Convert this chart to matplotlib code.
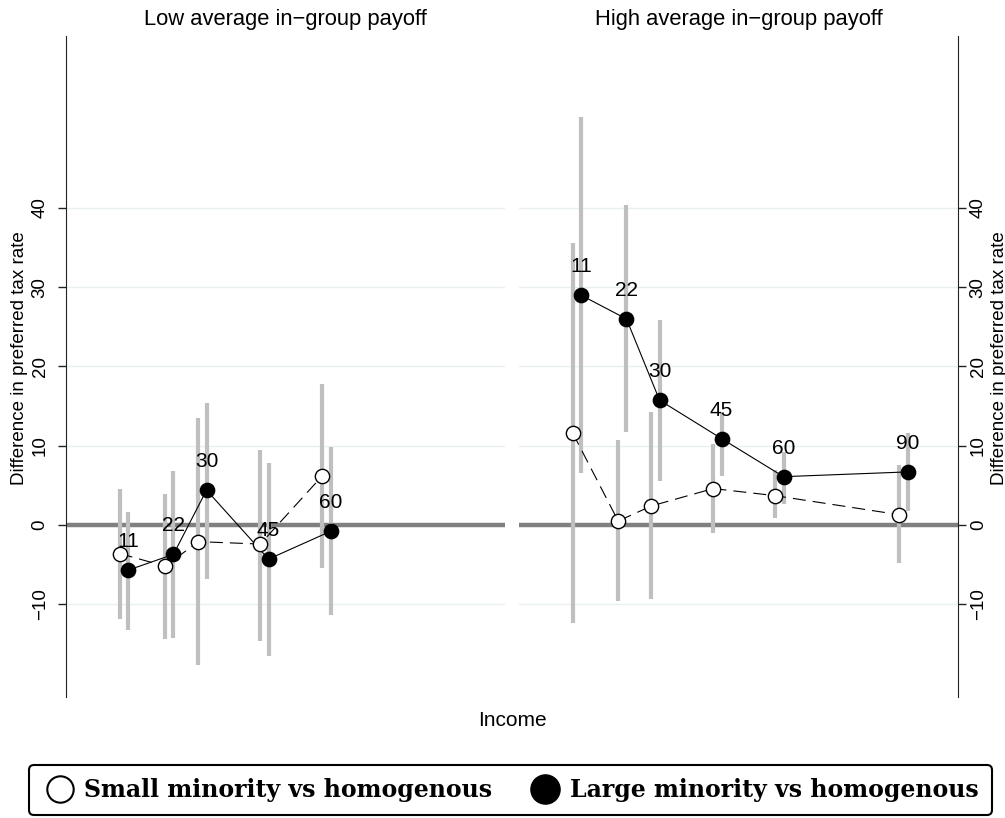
import matplotlib
matplotlib.use("Agg")
import matplotlib.pyplot as plt
from matplotlib.lines import Line2D

plt.rcParams['font.family'] = ['Liberation Sans', 'DejaVu Sans']

# ---------------- data ----------------
panel_titles = ["Low average in\u2212group payoff", "High average in\u2212group payoff"]
y_label = "Difference in preferred tax rate"
x_label = "Income"
legend_labels = ["Small minority vs homogenous", "Large minority vs homogenous"]
y_ticks = [-10, 0, 10, 20, 30, 40]

income_low = [11, 22, 30, 45, 60]
small_low = [-3.6, -5.2, -2.1, -2.4, 6.2]
small_low_lo = [-11.9, -14.4, -17.7, -14.6, -5.4]
small_low_hi = [4.6, 3.9, 13.5, 9.5, 17.8]
large_low = [-5.7, -3.7, 4.4, -4.3, -0.8]
large_low_lo = [-13.2, -14.2, -6.8, -16.5, -11.4]
large_low_hi = [1.6, 6.8, 15.4, 7.8, 9.8]

income_high = [11, 22, 30, 45, 60, 90]
small_high = [11.6, 0.5, 2.4, 4.6, 3.7, 1.3]
small_high_lo = [-12.4, -9.6, -9.3, -1.0, 0.85, -4.8]
small_high_hi = [35.6, 10.7, 14.2, 10.2, 6.9, 7.6]
large_high = [29.0, 26.0, 15.75, 10.9, 6.1, 6.7]
large_high_lo = [6.6, 11.7, 5.5, 6.2, 2.65, 1.8]
large_high_hi = [51.5, 40.4, 25.9, 14.2, 9.25, 11.6]

# ---------------- layout ----------------
W, H = 1005, 818
def fx(px):
    return px / W
def fy(py):
    return 1 - py / H

fig = plt.figure(figsize=(W / 100, H / 100), dpi=100)
axL = fig.add_axes([fx(66), fy(697), (505 - 66) / W, (697 - 36) / H])
axR = fig.add_axes([fx(519), fy(697), (958 - 519) / W, (697 - 36) / H])

small_shift = -2
grid_col = '#e8f0f1'
bar_col = '#bfbfbf'

panels = [
    (axL, income_low, small_low, small_low_lo, small_low_hi, large_low, large_low_lo, large_low_hi),
    (axR, income_high, small_high, small_high_lo, small_high_hi, large_high, large_high_lo, large_high_hi),
]

for ax, inc, s, slo, shi, l, llo, lhi in panels:
    xs = [v + small_shift for v in inc]
    ax.set_xlim(-4, 102.2)
    ax.set_ylim(-21.7, 61.7)
    ax.set_xticks([])
    ax.set_yticks(y_ticks)
    ax.grid(True, axis='y', color=grid_col, lw=1.0)
    ax.axhline(0, color='#808080', lw=3.2, zorder=1.8)
    ax.vlines(xs, slo, shi, color=bar_col, lw=3.0, zorder=2)
    ax.vlines(inc, llo, lhi, color=bar_col, lw=3.0, zorder=2)
    ax.plot(xs, s, color='black', lw=0.8, ls=(0, (11.7, 6.3)), zorder=3)
    ax.plot(inc, l, color='black', lw=0.8, ls='-', zorder=3)
    ax.plot(xs, s, ls='none', marker='o', ms=10.3, mfc='white', mec='black', mew=1.0, zorder=4)
    ax.plot(inc, l, ls='none', marker='o', ms=10.3, mfc='black', mec='black', mew=1.0, zorder=5)
    for xv, yv in zip(inc, l):
        ax.annotate(str(xv), (xv, yv), xytext=(0, 20.6), textcoords='offset points',
                    ha='center', va='center', fontsize=15, zorder=6)
    for sp in ['top', 'bottom']:
        ax.spines[sp].set_visible(False)
    ax.tick_params(axis='y', length=5.5, width=1, labelsize=13.5, color='#222222')

axL.tick_params(axis='y', pad=7)
axL.spines['right'].set_visible(False)
axL.spines['left'].set_color('#222222')
axR.spines['left'].set_visible(False)
axR.spines['right'].set_color('#222222')
axR.yaxis.tick_right()
axR.tick_params(axis='y', pad=3)

for ax in (axL, axR):
    for lbl in ax.get_yticklabels():
        lbl.set_rotation(90)
        lbl.set_va('center')

# titles and axis labels
fig.text(fx(285.5), fy(19), panel_titles[0], ha='center', va='center', fontsize=15.8)
fig.text(fx(738.5), fy(19), panel_titles[1], ha='center', va='center', fontsize=15.8)
fig.text(fx(11), fy(358), y_label, rotation=90, ha='left', va='center', fontsize=13.5)
fig.text(fx(991), fy(358), y_label, rotation=90, ha='left', va='center', fontsize=13.5)
fig.text(fx(512), fy(720), x_label, ha='center', va='center', fontsize=15)

# legend
h_small = Line2D([], [], ls='none', marker='o', ms=19, mfc='white', mec='black', mew=1.5)
h_large = Line2D([], [], ls='none', marker='o', ms=21, mfc='black', mec='black', mew=1.0)
leg = fig.legend([h_small, h_large], legend_labels, loc='center',
                 bbox_to_anchor=(fx(29), fy(817), (992 - 29) / W, (817 - 763) / H),
                 mode='expand', ncol=2, frameon=True, fancybox=True,
                 prop={'family': 'DejaVu Serif', 'weight': 'bold', 'size': 17},
                 borderaxespad=0, handlelength=1.5, handletextpad=0.3, borderpad=0.55,
                 framealpha=1)
leg.get_frame().set_edgecolor('black')
leg.get_frame().set_linewidth(1.5)

fig.savefig('out.png', dpi=100)
